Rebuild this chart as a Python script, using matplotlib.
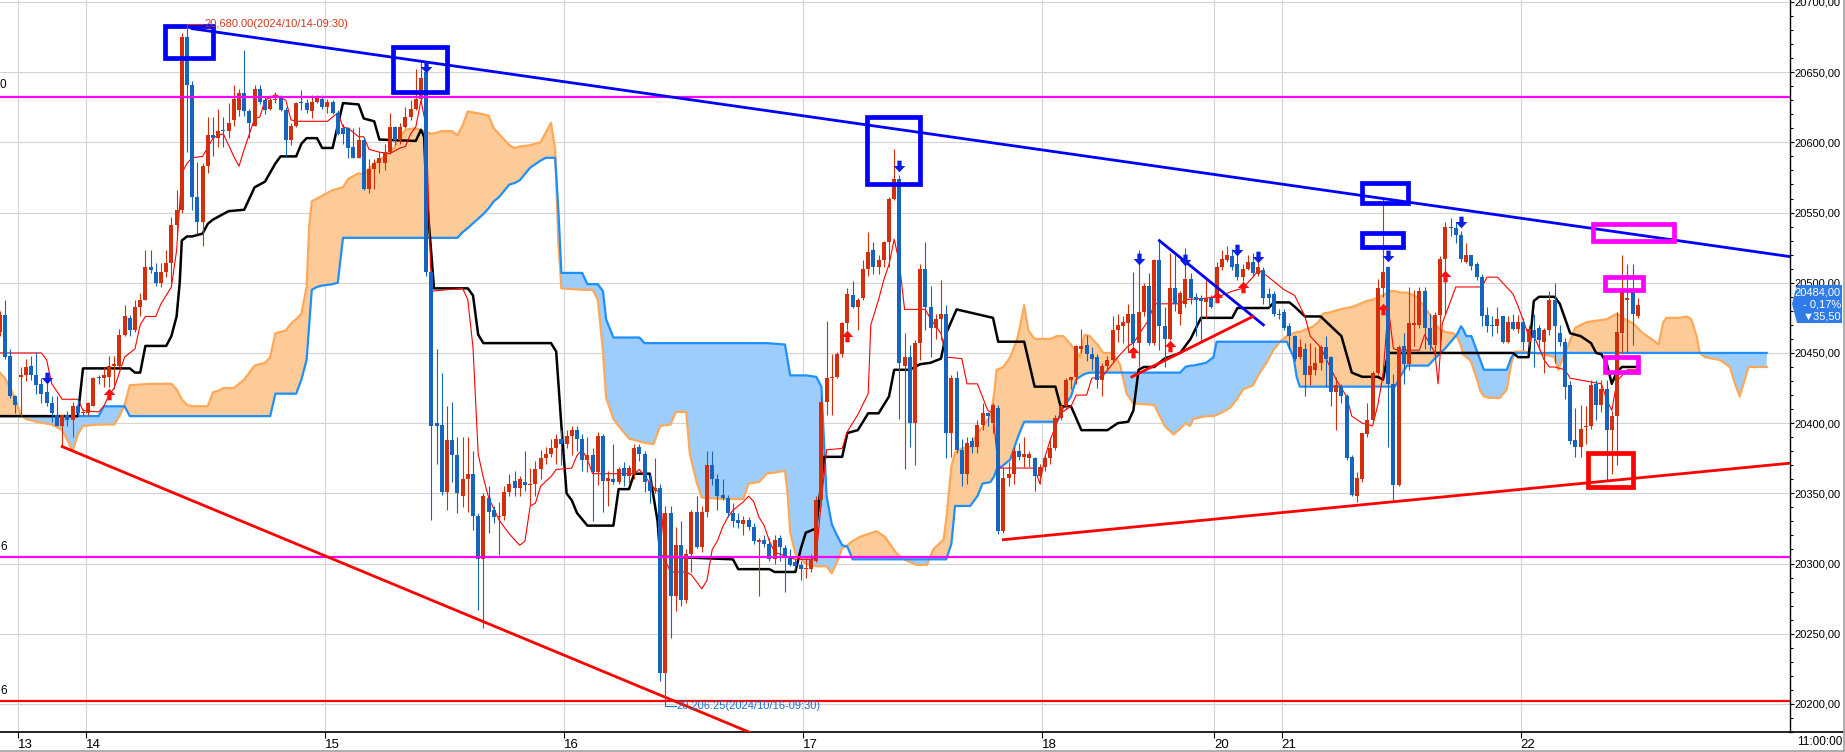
import numpy as np
import matplotlib
matplotlib.use('Agg')
import matplotlib.pyplot as plt
import matplotlib.transforms as mtransforms
from matplotlib.patches import Rectangle, Polygon
from matplotlib.path import Path
from matplotlib.lines import Line2D
from matplotlib.ticker import MultipleLocator, FuncFormatter

plt.rcParams['font.family'] = ['Liberation Sans', 'DejaVu Sans']

# 30 minute candles, first entry is bar -1 (cut at the left edge)
opens = [
    20465, 20477, 20448, 20419, 20433, 20434, 20441, 20434, 20428, 20422,
    20414, 20406, 20398, 20406, 20402, 20412, 20407, 20407, 20412, 20433,
    20432, 20433, 20441, 20441, 20463, 20475, 20466, 20483, 20488, 20511,
    20508, 20500, 20508, 20514, 20541, 20552, 20675, 20641, 20561, 20543,
    20583, 20605, 20603, 20609, 20608, 20616, 20623, 20635, 20622, 20612,
    20638, 20630, 20624, 20630, 20632, 20623, 20602, 20612, 20629, 20628,
    20622, 20629, 20631, 20625, 20629, 20621, 20610, 20610, 20597, 20589,
    20602, 20567, 20581, 20585, 20585, 20593, 20611, 20602, 20611, 20618,
    20624, 20631, 20650, 20508, 20400, 20399, 20351, 20388, 20377, 20348,
    20360, 20364, 20334, 20303, 20347, 20338, 20333, 20334, 20351, 20359,
    20354, 20358, 20356, 20357, 20367, 20375, 20378, 20382, 20389, 20385,
    20391, 20395, 20389, 20374, 20377, 20365, 20391, 20359, 20360, 20358,
    20368, 20362, 20364, 20383, 20378, 20358, 20352, 20354, 20222, 20336,
    20277, 20313, 20274, 20307, 20337, 20312, 20337, 20370, 20360, 20349,
    20347, 20336, 20331, 20328, 20331, 20326, 20315, 20317, 20314, 20303,
    20318, 20311, 20305, 20301, 20299, 20296, 20296, 20302, 20345, 20415,
    20432, 20433, 20449, 20471, 20491, 20483, 20489, 20510, 20523, 20511,
    20516, 20529, 20560, 20574, 20441, 20447, 20400, 20457, 20510, 20483,
    20468, 20474, 20478, 20393, 20432, 20381, 20364, 20387, 20383, 20399,
    20407, 20400, 20411, 20323, 20361, 20364, 20380, 20376, 20375, 20375,
    20362, 20369, 20375, 20382, 20404, 20412, 20431, 20433, 20453, 20456,
    20449, 20447, 20431, 20441, 20445, 20466, 20469, 20471, 20478, 20457,
    20479, 20498, 20457, 20516, 20469, 20460, 20496, 20478, 20485, 20503,
    20490, 20489, 20486, 20489, 20489, 20511, 20516, 20519, 20513, 20504,
    20510, 20515, 20506, 20509, 20492, 20492, 20478, 20479, 20469, 20462,
    20447, 20453, 20434, 20438, 20443, 20454, 20447, 20422, 20426, 20419,
    20376, 20348, 20360, 20392, 20402, 20436, 20496, 20511, 20428, 20356,
    20455, 20442, 20470, 20470, 20494, 20468, 20456, 20477, 20517, 20540,
    20539, 20534, 20515, 20520, 20513, 20504, 20477, 20470, 20469, 20476,
    20458, 20472, 20467, 20472, 20458, 20466, 20468, 20458, 20466, 20488,
    20464, 20458, 20427, 20388, 20383, 20397, 20398, 20428, 20413, 20424,
    20395, 20405, 20464, 20488, 20494, 20476,
]
highs = [
    20480, 20488, 20453, 20420, 20440, 20446, 20448, 20451, 20432, 20434,
    20419, 20419, 20406, 20409, 20415, 20418, 20410, 20415, 20433, 20434,
    20440, 20448, 20448, 20467, 20484, 20477, 20488, 20493, 20523, 20523,
    20514, 20514, 20523, 20547, 20566, 20678, 20680, 20644, 20586, 20585,
    20618, 20618, 20624, 20618, 20628, 20641, 20638, 20666, 20624, 20641,
    20641, 20633, 20634, 20636, 20634, 20625, 20614, 20629, 20637, 20631,
    20634, 20634, 20634, 20631, 20630, 20623, 20613, 20611, 20610, 20611,
    20604, 20588, 20588, 20593, 20599, 20621, 20612, 20614, 20625, 20630,
    20652, 20658, 20655, 20510, 20453, 20436, 20412, 20415, 20390, 20390,
    20390, 20380, 20336, 20350, 20355, 20341, 20344, 20355, 20364, 20366,
    20362, 20380, 20368, 20373, 20381, 20383, 20389, 20392, 20395, 20395,
    20398, 20398, 20392, 20390, 20382, 20394, 20392, 20366, 20385, 20369,
    20372, 20370, 20385, 20385, 20380, 20364, 20375, 20357, 20341, 20341,
    20326, 20330, 20310, 20338, 20348, 20341, 20380, 20380, 20364, 20360,
    20349, 20343, 20336, 20334, 20333, 20329, 20318, 20320, 20318, 20320,
    20320, 20313, 20310, 20303, 20302, 20305, 20307, 20348, 20419, 20473,
    20449, 20451, 20472, 20496, 20501, 20489, 20516, 20536, 20529, 20520,
    20530, 20561, 20595, 20577, 20464, 20456, 20459, 20513, 20529, 20498,
    20478, 20502, 20484, 20434, 20437, 20389, 20390, 20390, 20402, 20414,
    20408, 20414, 20413, 20369, 20372, 20383, 20386, 20390, 20380, 20376,
    20371, 20378, 20389, 20406, 20414, 20432, 20433, 20456, 20467, 20463,
    20454, 20449, 20443, 20448, 20476, 20478, 20476, 20485, 20508, 20523,
    20500, 20507, 20517, 20530, 20483, 20521, 20520, 20494, 20525, 20507,
    20493, 20491, 20502, 20491, 20515, 20523, 20526, 20524, 20526, 20513,
    20520, 20521, 20516, 20511, 20496, 20494, 20481, 20481, 20471, 20463,
    20460, 20457, 20457, 20454, 20456, 20462, 20448, 20433, 20428, 20421,
    20377, 20365, 20393, 20414, 20437, 20503, 20560, 20512, 20435, 20456,
    20464, 20497, 20495, 20497, 20497, 20478, 20479, 20519, 20543, 20546,
    20543, 20537, 20528, 20520, 20515, 20506, 20483, 20476, 20483, 20476,
    20476, 20478, 20477, 20475, 20470, 20478, 20470, 20468, 20494, 20500,
    20470, 20461, 20430, 20411, 20413, 20412, 20431, 20431, 20431, 20431,
    20409, 20479, 20520, 20513, 20513, 20489,
]
lows = [
    20462, 20446, 20418, 20407, 20405, 20430, 20431, 20421, 20414, 20412,
    20401, 20398, 20383, 20398, 20390, 20405, 20405, 20405, 20412, 20428,
    20426, 20426, 20424, 20440, 20462, 20462, 20465, 20476, 20488, 20507,
    20498, 20497, 20504, 20500, 20535, 20550, 20593, 20552, 20535, 20526,
    20578, 20590, 20597, 20597, 20603, 20612, 20619, 20619, 20603, 20612,
    20627, 20620, 20623, 20628, 20622, 20590, 20598, 20611, 20623, 20621,
    20617, 20628, 20624, 20621, 20620, 20605, 20599, 20589, 20589, 20589,
    20566, 20564, 20567, 20578, 20580, 20592, 20598, 20599, 20610, 20616,
    20623, 20629, 20505, 20331, 20371, 20349, 20338, 20358, 20336, 20340,
    20337, 20324, 20267, 20254, 20322, 20329, 20306, 20331, 20348, 20348,
    20348, 20352, 20342, 20348, 20360, 20371, 20376, 20371, 20370, 20382,
    20377, 20380, 20366, 20365, 20330, 20356, 20337, 20341, 20357, 20357,
    20355, 20357, 20360, 20373, 20351, 20343, 20350, 20216, 20206.25, 20247,
    20266, 20270, 20272, 20294, 20311, 20308, 20333, 20356, 20338, 20345,
    20333, 20326, 20325, 20320, 20324, 20314, 20277, 20312, 20302, 20300,
    20302, 20280, 20298, 20296, 20288, 20290, 20294, 20301, 20341, 20406,
    20406, 20432, 20447, 20466, 20482, 20466, 20488, 20505, 20506, 20506,
    20511, 20511, 20559, 20403, 20367, 20383, 20370, 20445, 20466, 20447,
    20460, 20459, 20375, 20376, 20379, 20355, 20357, 20379, 20379, 20395,
    20398, 20393, 20321, 20322, 20355, 20357, 20374, 20369, 20369, 20352,
    20357, 20366, 20371, 20381, 20402, 20410, 20424, 20428, 20450, 20444,
    20438, 20425, 20419, 20438, 20443, 20458, 20457, 20451, 20455, 20440,
    20476, 20456, 20456, 20452, 20440, 20459, 20480, 20470, 20483, 20485,
    20462, 20458, 20475, 20482, 20487, 20509, 20515, 20509, 20502, 20501,
    20509, 20505, 20505, 20485, 20483, 20476, 20474, 20466, 20453, 20444,
    20446, 20419, 20427, 20434, 20438, 20426, 20412, 20395, 20414, 20374,
    20348, 20344, 20358, 20390, 20400, 20434, 20490, 20383, 20345, 20355,
    20428, 20438, 20455, 20468, 20453, 20452, 20446, 20452, 20478, 20533,
    20528, 20515, 20514, 20509, 20502, 20469, 20465, 20462, 20464, 20457,
    20457, 20466, 20464, 20452, 20455, 20440, 20452, 20436, 20463, 20443,
    20455, 20417, 20385, 20376, 20376, 20385, 20396, 20402, 20408, 20359,
    20364, 20370, 20450, 20450, 20456, 20475,
]
closes = [
    20477, 20447, 20419, 20413, 20434, 20440, 20434, 20427, 20421, 20414,
    20407, 20398, 20406, 20402, 20412, 20407, 20408, 20414, 20432, 20432,
    20434, 20441, 20442, 20463, 20476, 20466, 20483, 20488, 20511, 20509,
    20500, 20508, 20514, 20541, 20552, 20675, 20641, 20561, 20543, 20583,
    20605, 20603, 20608, 20608, 20614, 20631, 20635, 20622, 20614, 20638,
    20629, 20623, 20630, 20631, 20623, 20602, 20612, 20628, 20628, 20623,
    20629, 20632, 20625, 20629, 20621, 20606, 20606, 20596, 20589, 20602,
    20567, 20581, 20585, 20589, 20593, 20611, 20602, 20611, 20618, 20624,
    20631, 20646, 20508, 20398, 20398, 20351, 20388, 20377, 20350, 20360,
    20364, 20334, 20303, 20348, 20337, 20333, 20334, 20351, 20357, 20354,
    20360, 20356, 20357, 20367, 20375, 20378, 20382, 20389, 20385, 20391,
    20395, 20389, 20374, 20377, 20365, 20391, 20359, 20361, 20358, 20367,
    20362, 20368, 20382, 20378, 20358, 20352, 20354, 20222, 20336, 20277,
    20313, 20274, 20307, 20337, 20312, 20337, 20370, 20360, 20348, 20347,
    20336, 20330, 20329, 20331, 20326, 20316, 20317, 20314, 20303, 20317,
    20312, 20304, 20299, 20298, 20296, 20297, 20303, 20345, 20415, 20432,
    20433, 20449, 20471, 20492, 20483, 20488, 20510, 20522, 20511, 20516,
    20529, 20560, 20574, 20443, 20447, 20400, 20457, 20510, 20483, 20468,
    20474, 20478, 20393, 20432, 20381, 20364, 20386, 20383, 20399, 20407,
    20405, 20413, 20323, 20361, 20364, 20380, 20376, 20378, 20378, 20362,
    20369, 20375, 20382, 20404, 20412, 20431, 20433, 20455, 20455, 20449,
    20446, 20431, 20441, 20445, 20466, 20470, 20472, 20478, 20457, 20479,
    20498, 20457, 20516, 20469, 20460, 20496, 20485, 20493, 20503, 20489,
    20488, 20487, 20489, 20483, 20511, 20517, 20520, 20511, 20504, 20510,
    20515, 20507, 20511, 20489, 20489, 20478, 20477, 20468, 20462, 20446,
    20454, 20434, 20441, 20443, 20454, 20446, 20422, 20427, 20419, 20375,
    20349, 20361, 20393, 20402, 20436, 20496, 20508, 20428, 20356, 20454,
    20442, 20471, 20471, 20494, 20468, 20456, 20477, 20517, 20540, 20539,
    20534, 20517, 20520, 20512, 20504, 20476, 20469, 20469, 20474, 20458,
    20472, 20467, 20472, 20458, 20467, 20461, 20459, 20466, 20488, 20469,
    20458, 20426, 20387, 20383, 20396, 20398, 20427, 20413, 20424, 20395,
    20405, 20465, 20494, 20489, 20478, 20484,
]

day_labels = ['13', '14', '15', '16', '17', '18', '20', '21', '22']
day_first_bar = [3, 16, 62, 108, 154, 200, 233, 246, 292]

# conversion line (thin red) and base line (black), break points
tenkan_x = [-1, 7, 8, 9, 11, 14, 15, 18, 19, 20, 21, 23, 25, 26, 27, 29, 30, 32, 33, 34,
            35, 36, 38, 40, 41, 42, 44, 45, 46, 48, 49, 50, 52, 54, 55, 56, 62, 64, 65, 66,
            68, 69, 70, 72, 74, 76, 77, 78, 79, 80, 81, 82, 88, 89, 90, 91, 92, 93, 95, 97,
            99, 100, 101, 102, 103, 105, 106, 109, 110, 111, 112, 113, 121, 122, 125, 126,
            127, 128, 131, 132, 134, 135, 136, 137, 138, 139, 140, 142, 143, 144, 145, 146,
            147, 148, 152, 155, 156, 157, 158, 161, 162, 164, 166, 166.5, 168, 169, 170,
            171, 172, 173, 177, 178, 180, 181, 184, 185, 187, 189, 190, 191, 198, 199, 200,
            201, 203, 205, 206, 208, 209, 211, 214, 216, 217, 220, 221, 226, 227, 231, 234,
            236, 238, 240, 241, 243, 245, 246, 248, 250, 251, 253, 256, 258, 259, 261, 263,
            264, 265, 266, 267, 268, 272, 273, 275, 275.6, 276.4, 279, 284, 285, 287, 288,
            290, 291, 292, 293, 294, 295, 296, 297, 298, 300, 301, 307, 308, 309, 310, 312, 314]
tenkan_y = [20450, 20450, 20445, 20428, 20417, 20417, 20409, 20408, 20412, 20420, 20425,
            20447, 20453, 20470, 20476, 20476, 20485, 20497, 20523, 20578, 20585, 20589,
            20590, 20603, 20605, 20606, 20590, 20583, 20595, 20617, 20618, 20630, 20634,
            20630, 20616, 20615, 20615, 20621, 20611, 20610, 20604, 20604, 20595, 20593,
            20592, 20596, 20597, 20606, 20611, 20630, 20611, 20494, 20496, 20488, 20454,
            20378, 20361, 20347, 20331, 20321, 20313, 20316, 20341, 20343, 20355, 20362,
            20367, 20368, 20377, 20381, 20374, 20364, 20364, 20367, 20353, 20350, 20302,
            20294, 20294, 20292, 20282, 20288, 20310, 20316, 20326, 20333, 20338, 20344,
            20348, 20344, 20333, 20327, 20316, 20308, 20303, 20303, 20305, 20345, 20381,
            20382, 20394, 20406, 20421, 20470, 20488, 20502, 20513, 20531, 20514, 20481,
            20481, 20474, 20464, 20447, 20446, 20428, 20428, 20409, 20407, 20368, 20368,
            20357, 20376, 20388, 20407, 20412, 20420, 20420, 20432, 20433, 20447, 20455,
            20457, 20474, 20485, 20485, 20488, 20489, 20491, 20494, 20496, 20504, 20509,
            20504, 20498, 20495, 20491, 20476, 20462, 20454, 20431, 20419, 20405, 20400,
            20398, 20413, 20434, 20483, 20453, 20452, 20452, 20463, 20450, 20428, 20471,
            20497, 20497, 20504, 20504, 20500, 20492, 20483, 20473, 20462, 20462, 20454,
            20445, 20440, 20440, 20438, 20432, 20428, 20417, 20409, 20430, 20438, 20438]
kijun_x = [-1, 14, 15, 24, 25, 26, 27, 31, 32, 33, 33.6, 34, 35, 36, 38, 39, 40, 43, 46, 48,
           50, 52, 53, 56, 57, 58, 60, 61, 63, 64, 65, 68, 69, 71, 72, 79, 80, 80.6, 81, 82,
           82.5, 89, 90, 91, 92, 105, 106, 107, 108, 109, 110, 112, 117, 118, 120, 121, 124,
           125.5, 126, 140, 141, 147, 148, 152, 153, 154, 156, 157.5, 161, 162, 164, 166,
           168, 170, 171, 174, 176, 178, 180, 181, 183, 190, 191, 196, 198, 202, 203, 205,
           207, 212, 214, 216, 217, 218, 219, 221, 223, 226, 228, 230, 236, 237, 243, 244,
           247, 248, 250, 253, 255, 257, 259, 261, 264, 265, 266, 290, 291, 293, 294, 295,
           298, 299, 301, 303, 305, 306, 307, 308, 309, 310, 311, 314]
kijun_y = [20405, 20405, 20439, 20439, 20436, 20436, 20455, 20455, 20462, 20476, 20500,
           20530, 20533, 20533, 20535, 20542, 20545, 20551, 20552, 20568, 20572, 20585,
           20590, 20590, 20599, 20603, 20603, 20596, 20596, 20612, 20628, 20627, 20617,
           20615, 20602, 20601, 20609, 20604, 20566, 20520, 20496, 20496, 20491, 20463,
           20457, 20457, 20451, 20398, 20350, 20345, 20336, 20327, 20327, 20353, 20353,
           20364, 20364, 20330, 20305, 20303, 20296, 20296, 20294, 20294, 20310, 20322,
           20325, 20376, 20376, 20393, 20395, 20407, 20407, 20419, 20438, 20438, 20442,
           20443, 20446, 20464, 20481, 20475, 20458, 20458, 20426, 20426, 20412, 20412,
           20395, 20395, 20400, 20401, 20409, 20438, 20440, 20440, 20446, 20450, 20460,
           20475, 20475, 20482, 20482, 20486, 20486, 20483, 20476, 20476, 20469, 20462,
           20436, 20433, 20433, 20431, 20450, 20450, 20447, 20447, 20487, 20490, 20490,
           20485, 20464, 20462, 20457, 20450, 20449, 20443, 20428, 20437, 20440, 20440]

# leading spans (already shifted forward), same break points for both
cloud_x = [-1, 0, 1, 2, 3, 4, 6, 9, 11, 12, 13, 14, 15, 18, 19, 21, 22, 23, 24, 28, 32, 33,
           34, 35, 36, 39, 40, 41, 42, 44, 45, 46, 47, 48, 50, 51, 52, 54, 55, 56, 57, 58,
           58.5, 59, 60, 61, 63, 64, 65, 66, 68, 69, 71, 73, 75, 76, 77, 79, 82, 84, 86, 87,
           88, 89, 92, 93, 94, 95, 97, 98, 99, 101, 103, 104, 105, 105.8, 106.4, 107, 111,
           112, 113, 114, 115, 115.6, 117, 118, 120, 122, 123, 124.7, 126, 128, 129, 131,
           131.7, 133, 134, 138, 142, 143, 145, 146.5, 150, 150.5, 151, 152, 154, 156, 157,
           158, 159, 160, 161, 162, 163, 164.4, 167.6, 169.2, 171.5, 172.8, 175.3, 177.3,
           178.5, 180.5, 181, 182, 182.7, 184, 185.6, 187, 188, 189.5, 190.2, 190.7, 192,
           193.3, 194.6, 195.2, 196, 196.8, 198, 201, 202.3, 203.5, 205, 206, 206.7, 207.6,
           208.6, 210.3, 211.2, 213, 214.4, 215.7, 217, 221, 223, 224.7, 226, 227, 227.9,
           228.5, 231, 232.4, 233, 233.7, 235.6, 236.9, 238.1, 240, 241.3, 242.6, 243.9,
           245.2, 246.5, 247.8, 248.4, 249, 250.3, 251.6, 252.6, 253.5, 254.9, 256.7, 259.3,
           261.9, 263.1, 265, 266.3, 267.3, 268.3, 269.6, 271.5, 272.7, 273.7, 274.7, 275.3,
           276, 276.9, 278.5, 279.2, 280, 280.4, 281, 281.7, 282, 283, 283.7, 284.4, 285.6,
           287.5, 288.8, 289.7, 290.4, 292, 294, 296, 298, 298.7, 300, 300.6, 301.3, 302,
           304.2, 308, 310, 311.5, 313.1, 315, 317, 318, 318.9, 319.5, 322, 323.4, 324.3,
           325.3, 325.9, 326.9, 329.8, 331.7, 332.7, 333.6, 334.5, 335.3, 338.8]
span_a = [20436, 20432, 20425, 20417, 20406, 20403, 20401, 20399, 20395, 20388, 20380, 20392,
          20398, 20399, 20399, 20399, 20405, 20413, 20427, 20428, 20428, 20424, 20417, 20413,
          20412, 20412, 20422, 20423, 20425, 20425, 20428, 20431, 20436, 20441, 20443, 20447,
          20464, 20466, 20471, 20474, 20478, 20497, 20540, 20558, 20560, 20562, 20566, 20567,
          20568, 20574, 20578, 20577, 20585, 20590, 20597, 20604, 20609, 20610, 20606, 20608,
          20608, 20605, 20612, 20622, 20620, 20619, 20610, 20606, 20598, 20596, 20597, 20598,
          20600, 20607, 20614, 20595, 20530, 20496, 20495, 20495, 20495, 20488, 20451, 20418,
          20403, 20398, 20389, 20387, 20386, 20385, 20398, 20399, 20408, 20408, 20378, 20358,
          20347, 20346, 20346, 20357, 20358, 20364, 20366, 20350, 20322, 20307, 20300, 20298,
          20298, 20298, 20293, 20301, 20311, 20313, 20316, 20319, 20323, 20319, 20307, 20303,
          20299, 20299, 20310, 20317, 20331, 20369, 20379, 20382, 20383, 20393, 20397, 20405,
          20420, 20438, 20440, 20447, 20459, 20469, 20484, 20466, 20460, 20460, 20462, 20462,
          20456, 20450, 20447, 20463, 20462, 20455, 20450, 20450, 20442, 20421, 20414, 20413,
          20398, 20392, 20396, 20400, 20398, 20403, 20405, 20405, 20406, 20407, 20411, 20417,
          20424, 20427, 20436, 20443, 20452, 20458, 20462, 20464, 20465, 20465, 20467, 20469,
          20472, 20478, 20479, 20481, 20483, 20487, 20488, 20491, 20494, 20494, 20493, 20493,
          20490, 20484, 20479, 20474, 20469, 20467, 20465, 20464, 20462, 20455, 20449, 20447,
          20445, 20443, 20432, 20423, 20419, 20418, 20418, 20424, 20443, 20451, 20451, 20450,
          20449, 20447, 20438, 20450, 20455, 20462, 20468, 20472, 20474, 20478, 20474, 20471,
          20464, 20459, 20456, 20472, 20475, 20475, 20476, 20474, 20462, 20450, 20447, 20445,
          20440, 20428, 20419, 20430, 20440, 20440]
span_b = [20405, 20405, 20405, 20405, 20405, 20405, 20405, 20405, 20405, 20405, 20405, 20405,
          20405, 20405, 20412, 20412, 20412, 20412, 20405, 20405, 20405, 20405, 20405, 20405,
          20405, 20405, 20405, 20405, 20405, 20405, 20405, 20405, 20405, 20405, 20405, 20405,
          20421, 20421, 20421, 20421, 20431, 20445, 20470, 20495, 20497, 20498, 20499, 20500,
          20532, 20532, 20532, 20532, 20532, 20532, 20532, 20532, 20532, 20532, 20532, 20532,
          20532, 20532, 20536, 20539, 20549, 20553, 20558, 20561, 20570, 20571, 20573, 20582,
          20587, 20589, 20589, 20589, 20553, 20507, 20507, 20499, 20499, 20499, 20494, 20474,
          20461, 20461, 20461, 20461, 20457, 20457, 20457, 20457, 20457, 20457, 20457, 20457,
          20457, 20457, 20457, 20457, 20457, 20457, 20456, 20445, 20434, 20434, 20434, 20433,
          20426, 20348, 20328, 20320, 20313, 20312, 20303, 20303, 20303, 20303, 20303, 20303,
          20303, 20303, 20303, 20303, 20303, 20314, 20341, 20341, 20341, 20348, 20357, 20358,
          20362, 20367, 20370, 20374, 20388, 20394, 20401, 20401, 20401, 20401, 20401, 20411,
          20419, 20431, 20433, 20435, 20436, 20436, 20436, 20436, 20436, 20436, 20436, 20436,
          20436, 20436, 20436, 20440, 20441, 20441, 20443, 20447, 20458, 20458, 20458, 20458,
          20458, 20458, 20458, 20458, 20458, 20458, 20458, 20447, 20433, 20426, 20426, 20426,
          20426, 20426, 20426, 20426, 20426, 20426, 20426, 20426, 20426, 20426, 20433, 20441,
          20441, 20441, 20441, 20445, 20447, 20450, 20453, 20460, 20463, 20469, 20467, 20462,
          20462, 20462, 20452, 20445, 20438, 20438, 20438, 20438, 20447, 20450, 20450, 20450,
          20450, 20450, 20450, 20450, 20450, 20450, 20450, 20450, 20450, 20450, 20450, 20450,
          20450, 20450, 20450, 20450, 20450, 20450, 20450, 20450, 20450, 20450, 20450, 20450,
          20450, 20450, 20450, 20450, 20450, 20450]

# signal arrows
sell_x = [8, 81, 172, 218, 227, 237, 241, 266, 280]
sell_y = [20432, 20654, 20583, 20517, 20516, 20523, 20518, 20519, 20543]
buy_x = [20, 162, 217, 224, 233, 238, 265, 277]
buy_y = [20421, 20462, 20451, 20455, 20490, 20497, 20481, 20505]

magenta_levels = [20632.6, 20305]
red_level = 20202
# only the last character of these level labels shows at the left edge
left_labels = ['0', '6', '6']
left_label_y = [20641, 20312, 20209]

# trend lines (bar, price) end points
down_line = ([36, 343.3], [20681, 20518.6])
low_line = ([11, 145], [20383.3, 20177])
up_line = ([192, 343.3], [20317, 20371.5])
mini_blue = ([222, 242], [20530, 20470])
mini_red = ([216.7, 240], [20433, 20476])

# marked boxes: x0, x1, y0, y1, colour
boxes = [
    (30.8, 40.0, 20660, 20683, '#0000FF'),
    (74.7, 85.0, 20636, 20668, '#0000FF'),
    (165.7, 176.0, 20570, 20618, '#0000FF'),
    (261.0, 269.8, 20557, 20571, '#0000FF'),
    (261.0, 268.9, 20525.5, 20535.5, '#0000FF'),
    (305.4, 321.0, 20530, 20542, '#FF00FF'),
    (307.7, 315.0, 20495, 20504, '#FF00FF'),
    (307.7, 314.1, 20436.5, 20447, '#FF00FF'),
    (304.4, 313.1, 20354.5, 20379, '#FF0000'),
]

RED = '#D32F0C'
BLUE = '#1565C0'

W, H = 1845, 752
fig = plt.figure(figsize=(W / 100, H / 100), dpi=100)
ax = fig.add_axes([0, 20 / H, 1790 / W, 732 / H])
ax.set_xlim(-0.96, 343.27)
ax.set_ylim(20180.0, 20701.4)

# grid
for v in range(20200, 20701, 50):
    ax.axhline(v, color='#D4D4D4', lw=0.8, zorder=0)
day_ticks = [b - 0.5 for b in day_first_bar]
for t in day_ticks:
    ax.axvline(t, color='#D4D4D4', lw=0.8, zorder=0)

# cloud
ca = np.array(span_a)
cb = np.array(span_b)
ax.fill_between(cloud_x, ca, cb, where=ca >= cb, interpolate=True,
                color='#FDCB98', lw=0, zorder=1)
ax.fill_between(cloud_x, ca, cb, where=ca < cb, interpolate=True,
                color='#9DCDFB', lw=0, zorder=1)
ax.plot(cloud_x, span_a, color='#FFA858', lw=1.6, zorder=2)
ax.plot(cloud_x, span_b, color='#1E8FFF', lw=1.6, zorder=2)

ax.plot(kijun_x, kijun_y, color='black', lw=1.8, zorder=3)
ax.plot(tenkan_x, tenkan_y, color='#FF0000', lw=0.8, zorder=3)

# candles
o = np.array(opens, dtype=float)
h = np.array(highs, dtype=float)
l = np.array(lows, dtype=float)
c = np.array(closes, dtype=float)
x = np.arange(len(o)) - 1
cols = np.where(c >= o, RED, BLUE)
ax.vlines(x, l, h, colors=cols, lw=0.8, zorder=4)
ax.bar(x, np.maximum(np.abs(c - o), 0.8), width=0.76, bottom=np.minimum(o, c),
       color=cols, lw=0, zorder=4.1)

# levels
for v in magenta_levels:
    ax.axhline(v, color='#FF00FF', lw=1.6, zorder=5)
ax.axhline(red_level, color='#FF0000', lw=1.6, zorder=5)
lt = mtransforms.blended_transform_factory(ax.transAxes, ax.transData)
for s, yv in zip(left_labels, left_label_y):
    ax.text(0.0, yv, s, ha='left', va='center', fontsize=8.5, color='black',
            transform=lt, zorder=8)

# trend lines
ax.plot(*down_line, color='#0000FF', lw=2.0, zorder=5)
ax.plot(*low_line, color='#FF0000', lw=2.0, zorder=5)
ax.plot(*up_line, color='#FF0000', lw=2.0, zorder=5)
ax.plot(*mini_blue, color='#0000FF', lw=2.0, zorder=5)
ax.plot(*mini_red, color='#FF0000', lw=2.0, zorder=5)

for x0, x1, y0, y1, col in boxes:
    ax.add_patch(Rectangle((x0, y0), x1 - x0, y1 - y0, fill=False,
                           edgecolor=col, lw=3.4, zorder=6))

# arrows
down_arrow = Path([(-0.22, 0.6), (0.22, 0.6), (0.22, 0.05), (0.6, 0.05), (0, -0.6),
                   (-0.6, 0.05), (-0.22, 0.05), (-0.22, 0.6)],
                  [Path.MOVETO] + [Path.LINETO] * 6 + [Path.CLOSEPOLY])
up_arrow = Path([(vx, -vy) for vx, vy in down_arrow.vertices], down_arrow.codes)
ax.scatter(sell_x, sell_y, marker=down_arrow, s=70, color='#0A1EE6', lw=0, zorder=7)
ax.scatter(buy_x, buy_y, marker=up_arrow, s=70, color='#FF1010', lw=0, zorder=7)

# high / low annotations
ax.plot([35, 35, 38.1], [20680, 20684.5, 20684.5], color='#CC3A1A', lw=0.8, zorder=8)
ax.text(38.3, 20684.5, '20,680.00(2024/10/14-09:30)', color='#CC3A1A', fontsize=8,
        ha='left', va='center', zorder=8)
ax.plot([127, 127, 129], [20206.25, 20198.6, 20198.6], color='#1E6ECF', lw=0.8, zorder=8)
ax.text(129.2, 20198.6, '20,206.25(2024/10/16-09:30)', color='#1E6ECF', fontsize=8,
        ha='left', va='center', zorder=8)

# axes look
for side in ['top', 'left']:
    ax.spines[side].set_visible(False)
ax.spines['right'].set_color('black')
ax.spines['right'].set_linewidth(1.0)
ax.spines['bottom'].set_color('black')
ax.spines['bottom'].set_linewidth(1.2)
ax.yaxis.tick_right()
ax.yaxis.set_major_locator(MultipleLocator(50))
ax.yaxis.set_minor_locator(MultipleLocator(10))
ax.yaxis.set_major_formatter(FuncFormatter(lambda v, p: f'{v:.0f},00'))
ax.tick_params(axis='y', which='major', length=3, width=0.8, pad=0.5, labelsize=8)
ax.tick_params(axis='y', which='minor', length=2.5, width=0.8)
ax.set_xticks(day_ticks)
ax.set_xticklabels(day_labels, ha='left')
ax.tick_params(axis='x', length=4, width=0.8, pad=1, labelsize=9.5)

# current price tag
bt = mtransforms.blended_transform_factory(ax.transAxes, ax.transData)
tag = Polygon([(1792 / 1790, 20485), (1797 / 1790, 20498.4), (1842 / 1790, 20498.4),
               (1842 / 1790, 20471.3), (1797 / 1790, 20471.3)], closed=True,
              facecolor='#2F7BE8', edgecolor='none', transform=bt, clip_on=False, zorder=9)
ax.add_patch(tag)
for k, s in enumerate(['20484,00', '- 0,17%', '\u25bc35,50']):
    ax.text(1841 / 1790, 20493.2 - k * 8.6, s, color='white', fontsize=8, ha='right',
            va='center', transform=bt, clip_on=False, zorder=10)

fig.text(1842 / W, (H - 742) / H, '11:00:00', ha='right', va='center', fontsize=8.5)
fig.add_artist(Line2D([1790 / W, 1], [20 / H, 20 / H], color='black', lw=1.2))
fig.add_artist(Line2D([1843.5 / W, 1843.5 / W], [0, 1], color='#A0A0A0', lw=1.2))
fig.add_artist(Line2D([0, 1], [1.5 / H, 1.5 / H], color='#A0A0A0', lw=1.2))

fig.savefig('out.png', dpi=100, facecolor='white')
